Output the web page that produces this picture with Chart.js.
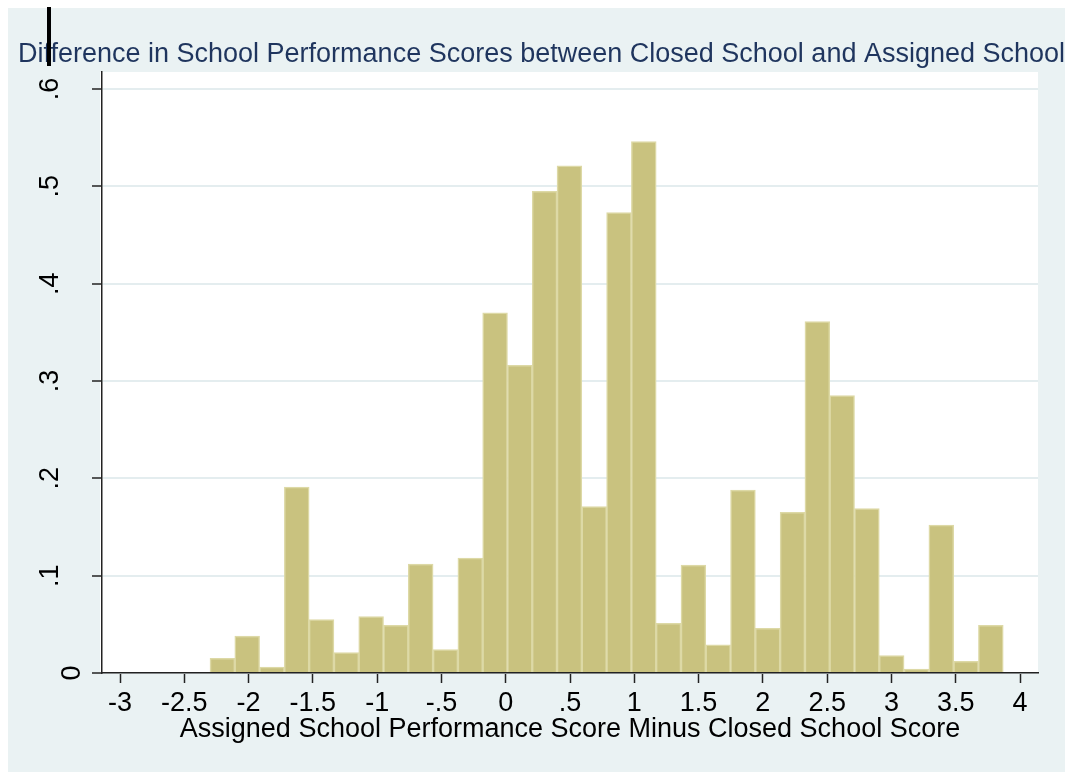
<!DOCTYPE html>
<html lang="en">
<head>
<meta charset="UTF-8">
<title>School Performance Score Difference</title>
<script src="https://cdn.jsdelivr.net/npm/chart.js"></script>
<style>
    body { margin: 0; background: #fff; }
    #wrap { width: 1068px; height: 772px; }
</style>
</head>
<body>
<div id="wrap"><canvas id="hist" width="1068" height="772"></canvas></div>
<script>
    // histogram: left edge of first bin, bin width, density of each bin
    const binStart = -2.3;
    const binWidth = 0.1928;
    const density = [
        0.015, 0.038, 0.006, 0.191, 0.055, 0.021, 0.058, 0.049, 0.112, 0.024, 0.118,
        0.370, 0.316, 0.495, 0.521, 0.171, 0.473, 0.546, 0.051, 0.111, 0.029, 0.188,
        0.046, 0.165, 0.361, 0.285, 0.169, 0.018, 0.004, 0.152, 0.012, 0.049
    ];
    const xTicks = [-3, -2.5, -2, -1.5, -1, -0.5, 0, 0.5, 1, 1.5, 2, 2.5, 3, 3.5, 4];
    const yTicks = [0, 0.1, 0.2, 0.3, 0.4, 0.5, 0.6];

    const titleText = 'Difference in School Performance Scores between Closed School and Assigned School';
    const xTitle = 'Assigned School Performance Score Minus Closed School Score';

    const FONT = '"Liberation Sans", Arial, sans-serif';
    const BG = '#eaf2f3';

    // bins are plotted at their centres on a linear x axis
    const points = density.map((d, i) => ({ x: binStart + (i + 0.5) * binWidth, y: d }));

    // stata style labels: .5 instead of 0.5
    const fmt = v => v === 0 ? '0' : String(v).replace('0.', '.');

    const stataFrame = {
        id: 'stataFrame',
        beforeDraw(chart) {
            const { ctx, chartArea: a } = chart;
            ctx.save();
            ctx.fillStyle = '#fff';
            ctx.fillRect(0, 0, chart.width, chart.height);
            ctx.fillStyle = BG;
            ctx.fillRect(8, 8, 1057, chart.height - 8);
            ctx.fillStyle = '#fff';
            ctx.fillRect(a.left - 2, a.top, a.right - a.left + 2, a.bottom - a.top);

            ctx.font = '27px ' + FONT;
            ctx.fillStyle = '#1f355e';
            ctx.textAlign = 'center';
            ctx.textBaseline = 'alphabetic';
            ctx.fillText(titleText, 541.5, 61.7);
            ctx.restore();
        },
        afterDraw(chart) {
            // stray cursor bar seen in the original screenshot
            const ctx = chart.ctx;
            ctx.save();
            ctx.fillStyle = '#000';
            ctx.fillRect(47, 7, 4, 59);
            ctx.restore();
        }
    };

    new Chart(document.getElementById('hist'), {
        type: 'bar',
        data: {
            datasets: [{
                data: points,
                backgroundColor: '#c9c27f',
                borderColor: '#ddd9a6',
                borderWidth: 1.5,
                barPercentage: 1,
                categoryPercentage: 1
            }]
        },
        options: {
            responsive: false,
            animation: false,
            layout: { padding: { top: 72, right: 30, bottom: 0, left: 0 } },
            plugins: {
                legend: { display: false },
                title: { display: false },
                tooltip: { enabled: false }
            },
            scales: {
                x: {
                    type: 'linear',
                    offset: false,
                    min: -3.14,
                    max: 4.14,
                    afterBuildTicks: s => { s.ticks = xTicks.map(v => ({ value: v })); },
                    afterFit: s => { s.height = 99; },
                    grid: {
                        offset: false,
                        color: 'rgba(0,0,0,0)',
                        drawOnChartArea: false,
                        tickColor: '#222',
                        tickLength: 10,
                        tickWidth: 1.5
                    },
                    border: { color: '#222', width: 1.5 },
                    ticks: {
                        autoSkip: false,
                        maxRotation: 0,
                        padding: 4,
                        color: '#000',
                        font: { family: FONT, size: 27 },
                        callback: v => fmt(v)
                    },
                    title: {
                        display: true,
                        text: xTitle,
                        color: '#000',
                        font: { family: FONT, size: 27 },
                        padding: { top: 0, bottom: 26 }
                    }
                },
                y: {
                    min: 0,
                    max: 0.6175,
                    afterBuildTicks: s => { s.ticks = yTicks.map(v => ({ value: v })); },
                    afterFit: s => { s.width = 102; },
                    grid: {
                        color: '#e4edef',
                        lineWidth: 2,
                        tickColor: '#222',
                        tickLength: 10,
                        tickWidth: 1.5
                    },
                    border: { color: '#222', width: 1.5 },
                    ticks: {
                        autoSkip: false,
                        minRotation: 90,
                        maxRotation: 90,
                        crossAlign: 'center',
                        padding: 29.7,
                        color: '#000',
                        font: { family: FONT, size: 27, lineHeight: 1.556 },
                        // the zero label sits further right in the original
                        callback: v => v === 0 ? ['', '0'] : fmt(v)
                    }
                }
            }
        },
        plugins: [stataFrame]
    });
</script>
</body>
</html>
